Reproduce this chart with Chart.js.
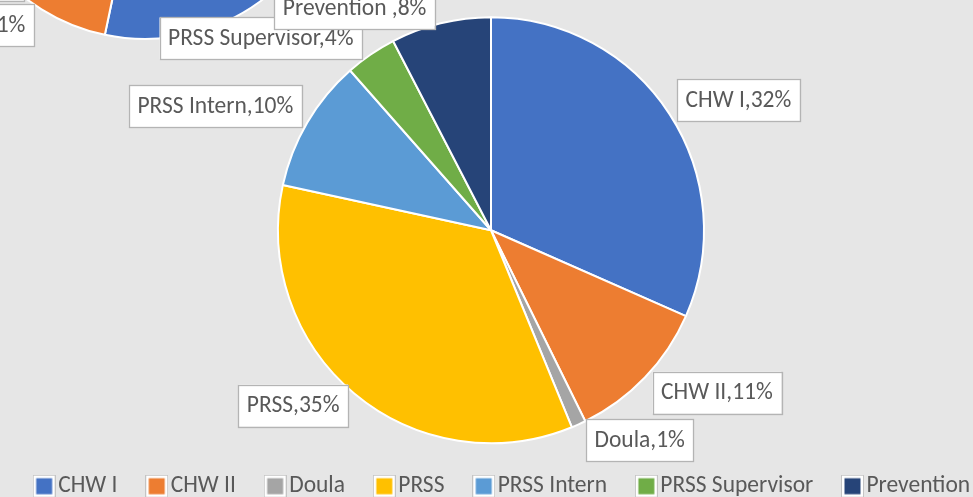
<!DOCTYPE html>
<html>
<head>
<meta charset="utf-8">
<script src="https://cdn.jsdelivr.net/npm/chart.js@4"></script>
<style>
  html, body { margin: 0; padding: 0; width: 973px; height: 497px; overflow: hidden; background: #e6e6e6; }
  #wrapSide { position: absolute; left: -85px; top: -386px; width: 460px; height: 460px; z-index: 1; }
  #wrapMain { position: absolute; left: -4px; top: 0; width: 1020px; height: 497px; z-index: 2; }
</style>
</head>
<body>
<div id="wrapSide"><canvas id="side"></canvas></div>
<div id="wrapMain"><canvas id="main"></canvas></div>
<script>
// ---- data ----
const categories = ['CHW I', 'CHW II', 'Doula', 'PRSS', 'PRSS Intern', 'PRSS Supervisor', 'Prevention'];
const labelNames = ['CHW I', 'CHW II', 'Doula', 'PRSS', 'PRSS Intern', 'PRSS Supervisor', 'Prevention '];
const mainShares = [31.6, 11.1, 1.1, 34.6, 10.1, 3.9, 7.6];
const mainPercentLabels = ['32%', '11%', '1%', '35%', '10%', '4%', '8%'];
// partially visible second pie (cropped at top-left of the picture)
const sideShares = [53.3, 11.2, 1.0, 20.0, 6.5, 3.0, 5.0];
const sidePercentLabels = ['53%', '11%', '1%', '20%', '7%', '3%', '5%'];

// ---- styles ----
const sliceColors = ['#4472C4', '#ED7D31', '#A5A5A5', '#FFC000', '#5B9BD5', '#70AD47', '#264478'];
const FONT = 'Carlito, Calibri, "Liberation Sans", sans-serif';
const FONT_SIZE = 23.5;
// label box placement relative to each slice's outer mid point
const mainLabelOffsets = [[69, -14], [72, 15], [61, 16], [-61, 12], [-92, -16], [-110, -16], [-86, -15]];
const sideLabelOffsets = [[40, -20], [-72, 16], [-17, 21], [-60, 0], [-60, 0], [-60, 0], [-20, -20]];

function makeMarker(color) {
  const c = document.createElement('canvas');
  c.width = 23; c.height = 23;
  const g = c.getContext('2d');
  g.fillStyle = '#ffffff';
  g.fillRect(0, 0, 23, 23);
  g.strokeStyle = '#c4c4c4';
  g.lineWidth = 1;
  g.strokeRect(0.5, 0.5, 22, 22);
  g.fillStyle = color;
  g.fillRect(3.5, 3.5, 16, 16);
  return c;
}
const markers = sliceColors.map(makeMarker);

const calloutPlugin = {
  id: 'callouts',
  afterDatasetsDraw(chart, args, opts) {
    const ctx = chart.ctx;
    const meta = chart.getDatasetMeta(0);
    ctx.save();
    ctx.font = FONT_SIZE + 'px ' + FONT;
    ctx.textBaseline = 'middle';
    ctx.textAlign = 'center';
    meta.data.forEach((arc, i) => {
      const p = arc.getProps(['x', 'y', 'startAngle', 'endAngle', 'outerRadius'], true);
      const mid = (p.startAngle + p.endAngle) / 2;
      const ax = p.x + Math.cos(mid) * p.outerRadius;
      const ay = p.y + Math.sin(mid) * p.outerRadius;
      const off = opts.offsets[i];
      const cx = ax + off[0], cy = ay + off[1];
      const text = opts.names[i] + ',' + opts.percents[i];
      const w = ctx.measureText(text).width + 17;
      const h = 42;
      ctx.fillStyle = '#ffffff';
      ctx.fillRect(cx - w / 2, cy - h / 2, w, h);
      ctx.strokeStyle = '#b4b4b4';
      ctx.lineWidth = 1.3;
      ctx.strokeRect(Math.round(cx - w / 2) + 0.5, Math.round(cy - h / 2) + 0.5, Math.round(w), h);
      ctx.fillStyle = '#595959';
      ctx.fillText(text, cx, cy + 1);
    });
    ctx.restore();
  }
};

// keep the pie where it sits in the picture while the legend spans the full row
const shiftAreaPlugin = {
  id: 'shiftArea',
  afterLayout(chart, args, opts) {
    if (opts.right) chart.chartArea.right -= opts.right;
  }
};

new Chart(document.getElementById('side'), {
  type: 'pie',
  data: {
    labels: categories,
    datasets: [{ data: sideShares, backgroundColor: sliceColors, borderColor: '#ffffff', borderWidth: 2, hoverOffset: 0 }]
  },
  options: {
    responsive: true, maintainAspectRatio: false, animation: false,
    radius: 195,
    layout: { padding: 0 },
    plugins: {
      legend: { display: false }, tooltip: { enabled: false },
      callouts: { names: labelNames, percents: sidePercentLabels, offsets: sideLabelOffsets }
    }
  },
  plugins: [calloutPlugin]
});

new Chart(document.getElementById('main'), {
  type: 'pie',
  data: {
    labels: categories,
    datasets: [{ data: mainShares, backgroundColor: sliceColors, borderColor: '#ffffff', borderWidth: 2, hoverOffset: 0 }]
  },
  options: {
    responsive: true, maintainAspectRatio: false, animation: false,
    radius: 213,
    layout: { padding: { left: 0, right: 0, top: 23, bottom: -11 } },
    plugins: {
      tooltip: { enabled: false },
      shiftArea: { right: 30 },
      callouts: { names: labelNames, percents: mainPercentLabels, offsets: mainLabelOffsets },
      legend: {
        position: 'bottom',
        align: 'center',
        labels: {
          font: { family: FONT, size: FONT_SIZE },
          color: '#595959',
          padding: 37,
          usePointStyle: true,
          pointStyleWidth: 4.5,
          generateLabels(chart) {
            return chart.data.labels.map((t, i) => ({
              text: t, fillStyle: sliceColors[i], strokeStyle: sliceColors[i],
              lineWidth: 0, pointStyle: markers[i], hidden: false, index: i, fontColor: '#595959'
            }));
          }
        }
      }
    }
  },
  plugins: [calloutPlugin, shiftAreaPlugin]
});
</script>
</body>
</html>
